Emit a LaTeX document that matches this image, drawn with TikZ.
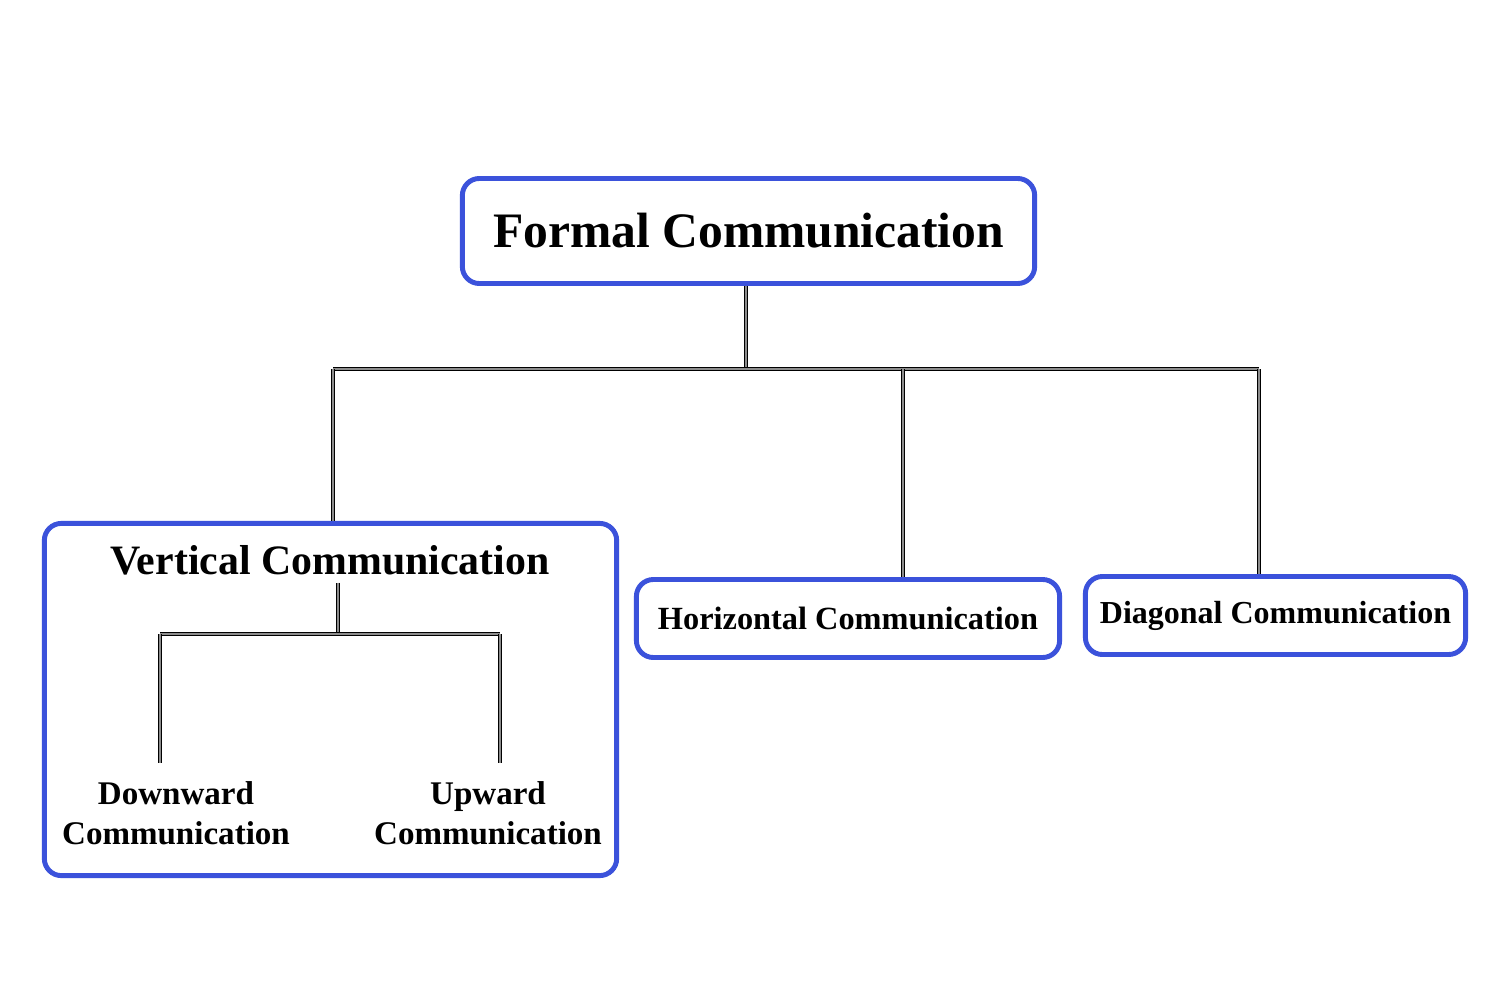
\documentclass[tikz,border=0pt]{standalone}
\usepackage{fontspec}
\setmainfont{Liberation Serif}
\usepackage{tikz}
\usetikzlibrary{positioning}

\definecolor{boxblue}{RGB}{59,82,219}

\begin{document}
\begin{tikzpicture}[
  x=0.01cm, y=-0.01cm,
  box/.style={draw=boxblue, line width=1.4pt, rounded corners=1.7mm, fill=white, inner sep=0pt},
  label/.style={font=\bfseries, align=center, inner sep=2pt},
  link/.style={draw=black, line width=0.5pt, double=black!45, double distance=0.3pt},
]
\useasboundingbox (0,0) rectangle (1500,1000);

\node[box, minimum width=57.2mm, minimum height=10.5mm] (F) at (748.5,231) {};
\node[label, font=\fontsize{14.1}{17}\bfseries\selectfont] (FT) at (F) {Formal Communication};

\node[box, minimum width=57.2mm, minimum height=35.2mm] (V) at (330.5,699.5) {};
\node[label, font=\fontsize{11.9}{14}\bfseries\selectfont] (VT) at (330,560) {Vertical Communication};

\node[box, minimum width=42.3mm, minimum height=7.8mm] (H) at (848,618.5) {};
\node[label, font=\fontsize{9.2}{11}\bfseries\selectfont] (HT) at (H) {Horizontal Communication};

\node[box, minimum width=38mm, minimum height=7.8mm] (D) at (1275.5,615.5) {};
\node[label, font=\fontsize{9.1}{11}\bfseries\selectfont] (DT) at (D) {Diagonal Communication};

\node[label, font=\fontsize{9.4}{11.4}\bfseries\selectfont] (Dn) at (176,813) {Downward\\Communication};
\node[label, font=\fontsize{9.4}{11.4}\bfseries\selectfont] (Up) at (488,813) {Upward\\Communication};

% main tree
\coordinate (J) at (746,369);
\coordinate (JV) at (333,369);
\coordinate (JH) at (903,369);
\coordinate (JD) at (1259,369);
\draw[link] (J |- F.south) -- (J);
\draw[link] (JV) -- (JD);
\draw[link] (JV) -- (JV |- V.north);
\draw[link] (JH) -- (JH |- H.north);
\draw[link] (JD) -- (JD |- D.north);

% vertical sub-tree
\coordinate (K) at (338,634);
\coordinate (KD) at (160,634);
\coordinate (KU) at (500,634);
\draw[link] (K |- VT.south) -- (K);
\draw[link] (KD) -- (KU);
\draw[link, shorten >=6\pgflinewidth] (KD) -- (KD |- Dn.north);
\draw[link, shorten >=6\pgflinewidth] (KU) -- (KU |- Up.north);
\end{tikzpicture}
\end{document}
